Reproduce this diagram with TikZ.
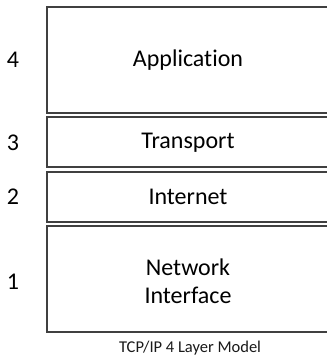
\documentclass[tikz,border=0pt]{standalone}
\usepackage{fontspec}
\setmainfont[Ligatures=NoCommon]{Carlito}
\begin{document}
\begin{tikzpicture}[x=1pt,y=-1pt,
  layer/.style={draw=black!75,line width=1.3pt},
  lbl/.style={font=\fontsize{24}{28}\selectfont,text=black,align=center},
  num/.style={font=\fontsize{24}{28}\selectfont,text=black},
  captext/.style={font=\fontsize{16.5}{19}\selectfont,text=black!90,inner sep=1pt}]
\useasboundingbox (0,0) rectangle (327,357);
\begin{scope}
\clip (0,0) rectangle (327,357);
\draw[layer] (47,7) rectangle (340,113);
\draw[layer] (47,117) rectangle (340,167);
\draw[layer] (47,172) rectangle (340,222);
\draw[layer] (47,226) rectangle (340,332);
\end{scope}
\node[lbl] (app) at (188,60) {Application};
\node[lbl] (tra) at (188,143) {Transport};
\node[lbl] (int) at (188,197) {Internet};
\node[lbl] (net) at (188,281) {Network\\Interface};
\node[num] (n4) at (13,60) {4};
\node[num] (n3) at (13,143) {3};
\node[num] (n2) at (13,197) {2};
\node[num] (n1) at (13,282) {1};
\node[captext] (title) at (190,348) {TCP/IP 4 Layer Model};
\end{tikzpicture}
\end{document}
